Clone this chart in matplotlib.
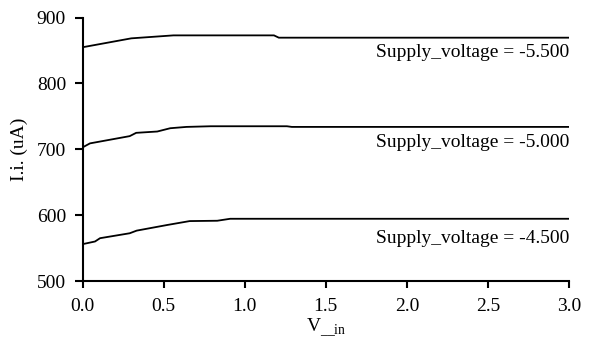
import matplotlib
matplotlib.use("Agg")
import matplotlib.pyplot as plt

plt.rcParams['font.family'] = ['Liberation Serif', 'DejaVu Serif']
plt.rcParams['mathtext.fontset'] = 'custom'
plt.rcParams['mathtext.rm'] = 'Liberation Serif'

# Data
v_in_a = [0.0, 0.30, 0.56, 1.0, 1.18, 1.21, 3.0]
ii_a = [855, 868.5, 873, 873, 873, 869.5, 869.5]
v_in_b = [0.0, 0.045, 0.29, 0.33, 0.46, 0.54, 0.64, 0.79, 1.26, 1.29, 3.0]
ii_b = [703, 709, 720, 725, 727, 732, 734, 735, 735, 734, 734]
v_in_c = [0.0, 0.076, 0.107, 0.29, 0.333, 0.52, 0.66, 0.83, 0.91, 3.0]
ii_c = [556, 560, 565, 572.5, 576.5, 585, 591, 591.5, 594.5, 594.5]
labels = ["Supply_voltage = -5.500", "Supply_voltage = -5.000", "Supply_voltage = -4.500"]
label_offsets = [-4.8, -5.0, -8.0]
series = [(v_in_a, ii_a), (v_in_b, ii_b), (v_in_c, ii_c)]
xticks = [0.0, 0.5, 1.0, 1.5, 2.0, 2.5, 3.0]
yticks = [500, 600, 700, 800, 900]

fig = plt.figure(figsize=(5.89, 3.45), dpi=100)
ax = fig.add_axes([0.1404, 0.1855, 0.8256, 0.7635])
for (xs, ys), lab, off in zip(series, labels, label_offsets):
    ax.plot(xs, ys, color='black', lw=1.3)
    ax.annotate(lab, xy=(xs[-1], ys[-1]), xytext=(0, off), textcoords='offset points',
                ha='right', va='top', fontsize=14)

ax.set_xlim(0, 3.0)
ax.set_ylim(500, 900)
ax.set_xticks(xticks)
ax.set_xticklabels([f"{t:.1f}" for t in xticks])
ax.set_yticks(yticks)
ax.tick_params(axis='y', direction='out', length=6, width=1.5, labelsize=14, pad=6)
ax.tick_params(axis='x', direction='out', length=5, width=1.5, labelsize=14, pad=7)
for s in ['top', 'right']:
    ax.spines[s].set_visible(False)
for s in ['left', 'bottom']:
    ax.spines[s].set_linewidth(1.5)
ax.set_ylabel("I.i. (uA)", fontsize=14, labelpad=6)
ax.set_xlabel(r"V$_{\mathrm{\_\_in}}$", fontsize=14, labelpad=1)

fig.savefig("out.png", dpi=100)
